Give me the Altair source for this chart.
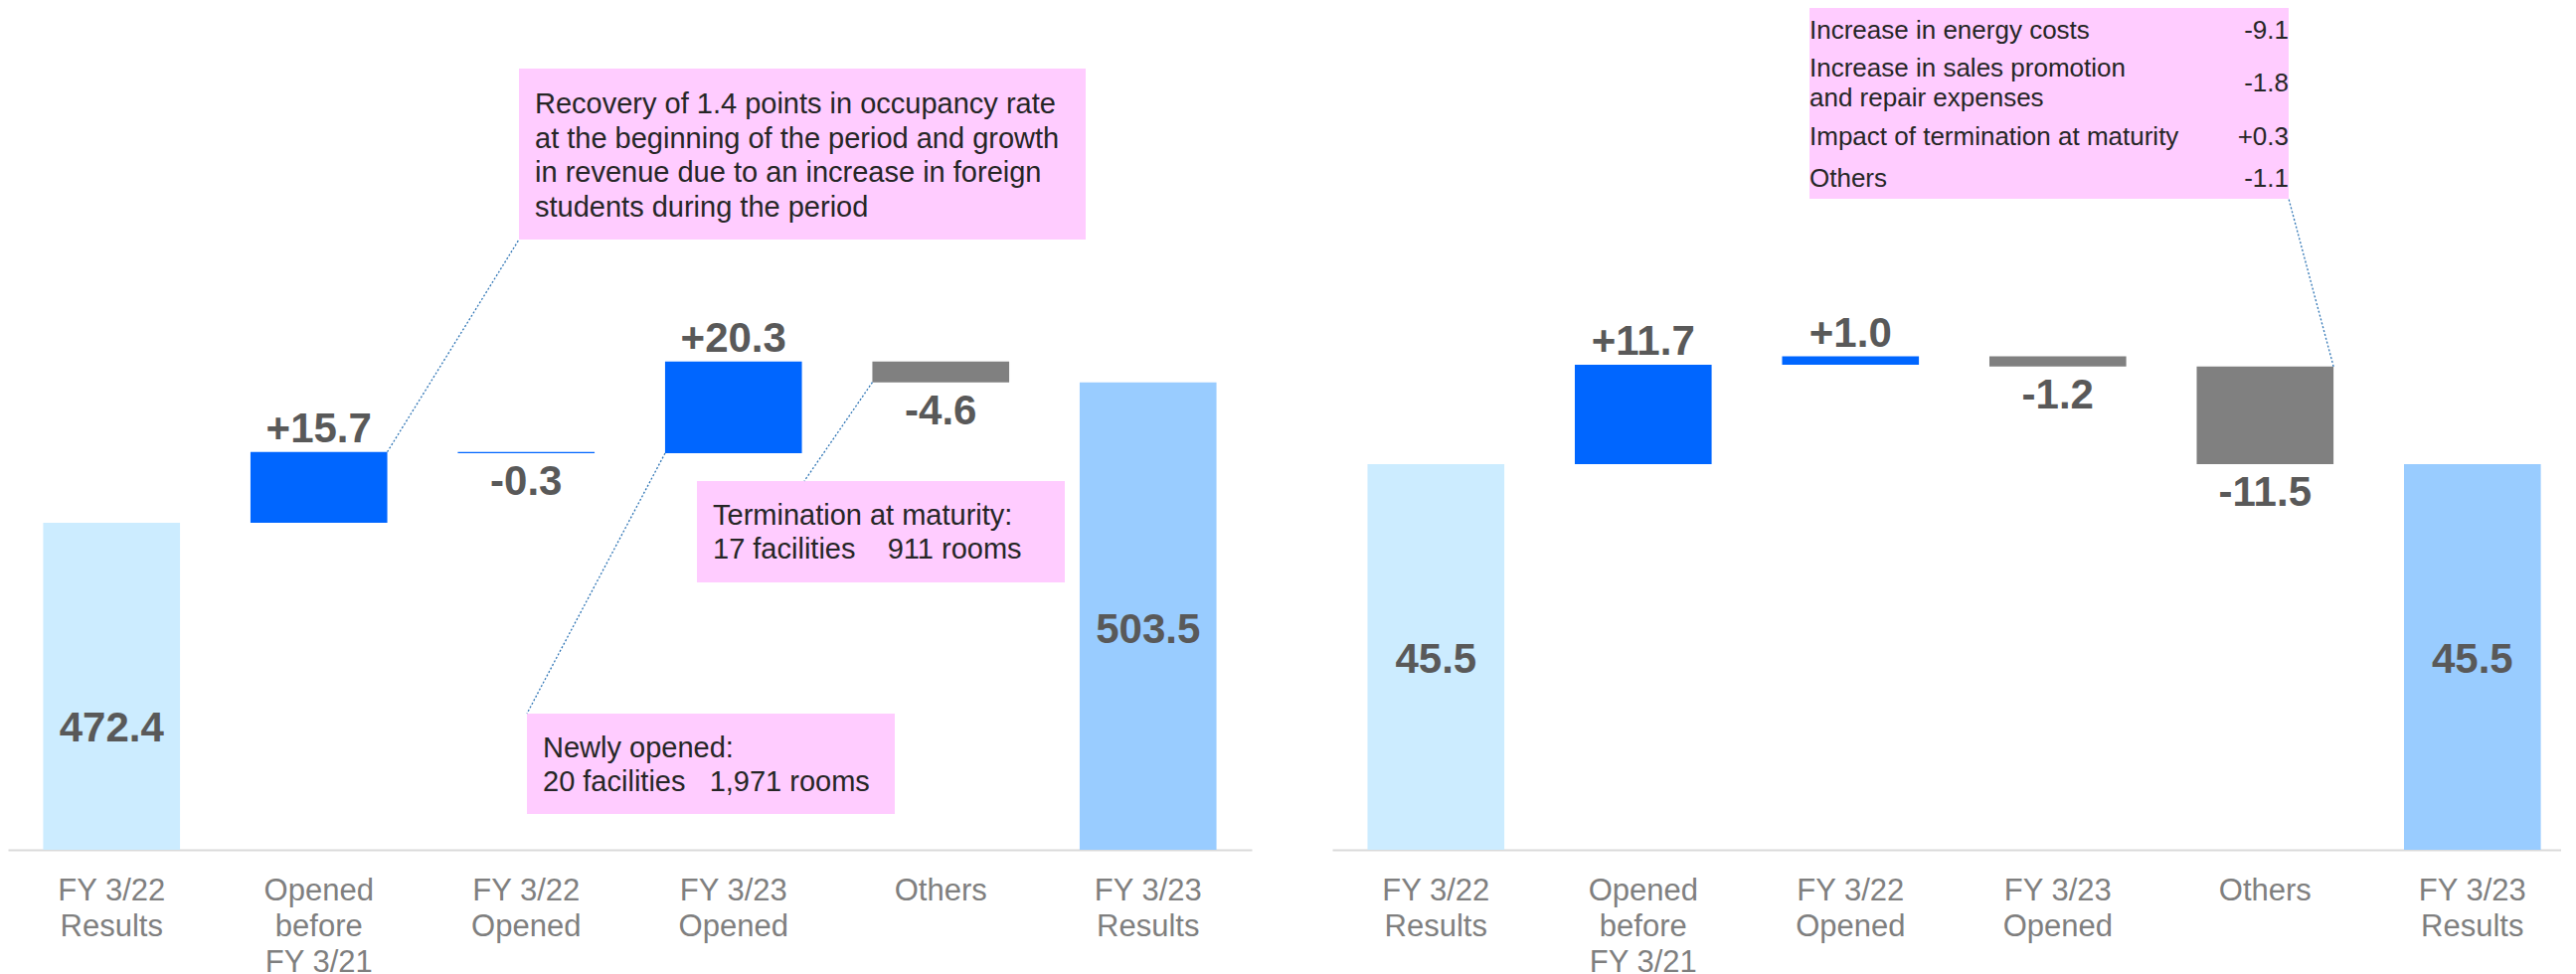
import altair as alt
import pandas as pd

# ---------------- data ----------------
categories = ["FY 3/22|Results", "Opened|before|FY 3/21", "FY 3/22|Opened",
              "FY 3/23|Opened", "Others", "FY 3/23|Results"]

left_values = [472.4, 15.7, -0.3, 20.3, -4.6, 503.5]
left_groups = ["result_start", "opening", "opening", "opening", "other", "result_end"]
left_axis_floor = 400.0

right_values = [45.5, 11.7, 1.0, -1.2, -11.5, 45.5]
right_groups = ["result_start", "opening", "opening", "other", "other", "result_end"]
right_axis_floor = 0.0

note_recovery = ["Recovery of 1.4 points in occupancy rate",
                 "at the beginning of the period and growth",
                 "in revenue due to an increase in foreign",
                 "students during the period"]
note_new = ["Newly opened:", "20 facilities\u00a0\u00a0\u00a01,971 rooms"]
note_term = ["Termination at maturity:", "17 facilities\u00a0\u00a0\u00a0\u00a0911 rooms"]

others_items = [["Increase in energy costs"],
                ["Increase in sales promotion", "and repair expenses"],
                ["Impact of termination at maturity"],
                ["Others"]]
others_values = ["-9.1", "-1.8", "+0.3", "-1.1"]

# ---------------- styling ----------------
FONT = "Liberation Sans"
VAL_COLOR = "#595959"
NOTE_COLOR = "#262626"
BOX_FILL = "#FFCCFF"
LEADER = "#2F75B5"
H = 847

color_scale = alt.Scale(domain=["result_start", "opening", "other", "result_end"],
                        range=["#CCECFF", "#0066FF", "#808080", "#99CCFF"])


def build_table(values, groups, floor):
    rows = []
    level = 0.0
    n = len(values)
    for i, (c, v, g) in enumerate(zip(categories, values, groups)):
        if i == 0 or i == n - 1:
            s, e = floor, v
            kind = "total"
            txt = f"{v:.1f}"
            level = v
        else:
            s, e = level, level + v
            level = e
            kind = "up" if v >= 0 else "down"
            txt = f"{v:+.1f}"
        rows.append(dict(cat=c, start=s, end=e, low=min(s, e), high=max(s, e),
                         mid=(s + e) / 2, group=g, kind=kind, label=txt, order=i))
    return pd.DataFrame(rows)


one = pd.DataFrame({"k": [0]})

x_axis = alt.Axis(title=None, labelExpr="split(datum.label, '|')", labelAngle=0,
                  labelFontSize=31, labelFont=FONT, labelColor="#7F7F7F",
                  labelLineHeight=36, labelPadding=26, ticks=False, tickSize=0,
                  domainColor="#D9D9D9", domainWidth=2, labelLimit=0,
                  labelOverlap=False, grid=False)


def panel(table, yscale, xscale, width, total_dys, leaders, boxes, texts):
    xenc = alt.X("cat:N", sort=categories, scale=xscale, axis=x_axis)
    base = alt.Chart(table)
    layers = []
    for (x1, y1, x2, y2) in boxes:
        layers.append(alt.Chart(one).mark_rect(color=BOX_FILL).encode(
            x=alt.value(x1), x2=alt.value(x2), y=alt.value(y1), y2=alt.value(y2)))
    bars = base.mark_bar().encode(
        x=xenc,
        y=alt.Y("start:Q", scale=yscale, axis=None),
        y2="end:Q",
        color=alt.Color("group:N", scale=color_scale, legend=None))
    layers.append(bars)
    for (order, band, field, px, py) in leaders:
        layers.append(base.transform_filter(f"datum.order == {order}").mark_rule(
            color=LEADER, strokeDash=[2, 2], strokeWidth=1.3).encode(
            x=alt.X("cat:N", sort=categories, scale=xscale, axis=x_axis, bandPosition=band),
            y=alt.Y(f"{field}:Q", scale=yscale, axis=None),
            x2=alt.value(px), y2=alt.value(py)))
    txt_style = dict(font=FONT, fontSize=42, fontWeight="bold", color=VAL_COLOR,
                     align="center", baseline="alphabetic")
    layers.append(base.transform_filter("datum.kind == 'up'").mark_text(dy=-10, **txt_style).encode(
        x=xenc, y=alt.Y("high:Q", scale=yscale, axis=None), text="label:N"))
    layers.append(base.transform_filter("datum.kind == 'down'").mark_text(dy=42, **txt_style).encode(
        x=xenc, y=alt.Y("low:Q", scale=yscale, axis=None), text="label:N"))
    for order, dy in total_dys:
        st = dict(txt_style)
        st["baseline"] = "middle"
        layers.append(base.transform_filter(f"datum.order == {order}").mark_text(dy=dy, **st).encode(
            x=xenc, y=alt.Y("mid:Q", scale=yscale, axis=None), text="label:N"))
    for (lines, px, py, align, lh) in texts:
        layers.append(alt.Chart(one).mark_text(
            text=lines, font=FONT, fontSize=texts_font[id(lines)] if id(lines) in texts_font else 29,
            color=NOTE_COLOR, align=align, baseline="alphabetic", lineHeight=lh).encode(
            x=alt.value(px), y=alt.value(py)))
    return alt.layer(*layers).properties(width=width, height=H)


texts_font = {}

left_table = build_table(left_values, left_groups, left_axis_floor)
right_table = build_table(right_values, right_groups, right_axis_floor)

left_y = alt.Scale(domain=[left_axis_floor, 586.4], nice=False, zero=False)
right_y = alt.Scale(domain=[right_axis_floor, 99.3], nice=False, zero=False)
left_x = alt.Scale(paddingInner=0.34, paddingOuter=0.17, align=0.5)
right_x = alt.Scale(paddingInner=0.34, paddingOuter=0.134, align=0.635)

left = panel(
    left_table, left_y, left_x, 1251,
    total_dys=[(0, 42), (5, 14)],
    leaders=[(1, 1, "high", 514, 233), (3, 0, "low", 522, 710), (4, 0, "low", 801, 476)],
    boxes=[(514, 61, 1084, 233), (522, 710, 892, 811), (693, 476, 1063, 578)],
    texts=[(note_recovery, 530, 106, "left", 34.5),
           (note_new, 538, 754, "left", 34),
           (note_term, 709, 520, "left", 34)])

right_texts = []
label_y = [31.3, 68.8, 138.3, 179.8]
value_y = [31.3, 84.3, 138.3, 179.8]
for lines, ly in zip(others_items, label_y):
    texts_font[id(lines)] = 26
    right_texts.append((lines, 480, ly, "left", 30))
value_lines = []
for v, vy in zip(others_values, value_y):
    lst = [v]
    value_lines.append(lst)
    texts_font[id(lst)] = 26
    right_texts.append((lst, 962, vy, "right", 30))

right = panel(
    right_table, right_y, right_x, 1236,
    total_dys=[(0, 3), (5, 3)],
    leaders=[(4, 1, "high", 962, 192)],
    boxes=[(480, 0, 962, 192)],
    texts=right_texts)

chart = alt.hconcat(left, right, spacing=81).properties(padding=0).configure_view(stroke=None)

chart.save("out.html", embed_options={"renderer": "svg", "actions": False})
